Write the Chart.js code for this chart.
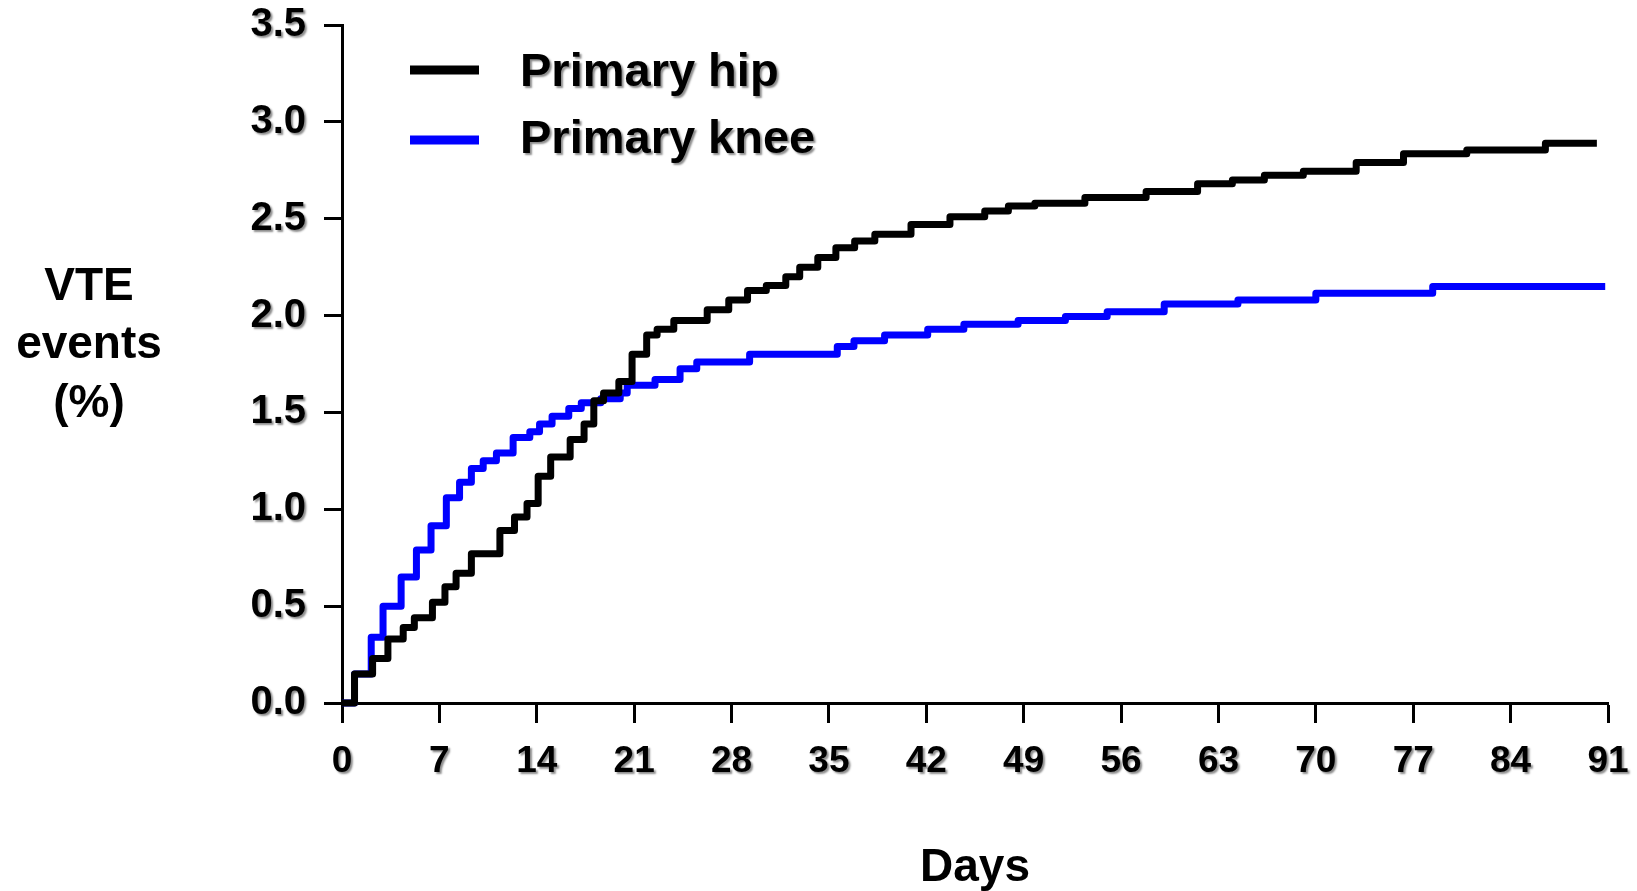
<!DOCTYPE html>
<html><head><meta charset="utf-8">
<script src="https://cdn.jsdelivr.net/npm/chart.js@4.4.1/dist/chart.umd.min.js"></script>
<style>html,body{margin:0;padding:0;background:#fff;overflow:hidden}#wrap{width:1637px;height:891px}</style>
</head><body><div id="wrap"><canvas id="c" width="1637" height="891"></canvas></div>
<script>
// ---- data ----
const seriesLabels = ['Primary hip', 'Primary knee'];
const hipDays   = [0, 0.9, 2.2, 3.3, 4.4, 5.2, 6.5, 7.4, 8.2, 9.3, 11.35, 12.4, 13.3, 14.1, 15.0, 16.4, 17.4, 18.1, 18.8, 19.9, 20.85, 21.9, 22.65, 23.85, 26.25, 27.8, 29.15, 30.5, 31.9, 32.9, 34.2, 35.5, 36.85, 38.3, 40.9, 43.7, 46.2, 47.9, 49.8, 53.4, 57.8, 61.5, 64.0, 66.3, 69.1, 72.9, 76.3, 80.85, 86.5, 90.2];
const hipValues = [0, 0.15, 0.23, 0.33, 0.39, 0.44, 0.52, 0.60, 0.67, 0.77, 0.89, 0.96, 1.03, 1.17, 1.27, 1.36, 1.44, 1.56, 1.60, 1.66, 1.80, 1.90, 1.93, 1.975, 2.03, 2.08, 2.13, 2.155, 2.20, 2.25, 2.30, 2.35, 2.385, 2.42, 2.47, 2.51, 2.54, 2.565, 2.58, 2.61, 2.64, 2.68, 2.70, 2.725, 2.745, 2.79, 2.835, 2.855, 2.89, 2.89];
const kneeDays   = [0, 0.9, 2.1, 2.95, 4.25, 5.35, 6.4, 7.5, 8.45, 9.3, 10.15, 11.1, 12.3, 13.5, 14.2, 15.1, 16.3, 17.2, 18.6, 20.0, 20.5, 22.5, 24.3, 25.5, 29.3, 35.6, 36.8, 39.0, 42.1, 44.7, 48.6, 52.0, 55.0, 59.1, 64.4, 70.0, 78.4, 90.8];
const kneeValues = [0, 0.15, 0.34, 0.50, 0.65, 0.79, 0.915, 1.06, 1.14, 1.21, 1.25, 1.29, 1.37, 1.40, 1.44, 1.48, 1.52, 1.55, 1.57, 1.60, 1.64, 1.67, 1.725, 1.76, 1.80, 1.84, 1.87, 1.90, 1.93, 1.955, 1.975, 1.995, 2.02, 2.06, 2.08, 2.115, 2.15, 2.15];
const xTickValues = [0, 7, 14, 21, 28, 35, 42, 49, 56, 63, 70, 77, 84, 91];
const yTickValues = [0, 0.5, 1.0, 1.5, 2.0, 2.5, 3.0, 3.5];
const xTitle = 'Days';
const yTitleLines = ['VTE', 'events', '(%)'];

const FONT = "'Liberation Sans', Arial, Helvetica, sans-serif";
const noShadow = new Set([xTitle].concat(yTitleLines));

const shadowTextPlugin = {
  id: 'shadowText',
  beforeDraw(chart) {
    const ctx = chart.ctx;
    if (ctx.__wrapped) return;
    ctx.__wrapped = true;
    const orig = ctx.fillText;
    ctx.fillText = function () {
      if (noShadow.has(arguments[0])) return orig.apply(this, arguments);
      this.save();
      this.shadowColor = 'rgba(0,0,0,0.45)';
      this.shadowOffsetX = 2;
      this.shadowOffsetY = 2;
      this.shadowBlur = 2;
      orig.apply(this, arguments);
      this.restore();
    };
  }
};

const yTitlePlugin = {
  id: 'yTitle',
  afterDraw(chart) {
    const ctx = chart.ctx;
    ctx.save();
    ctx.font = 'bold 46px ' + FONT;
    ctx.fillStyle = '#000';
    ctx.textAlign = 'center';
    ctx.textBaseline = 'middle';
    yTitleLines.forEach((t, i) => ctx.fillText(t, 89, 287 + i * 58.5));
    ctx.restore();
  }
};

const legendPlugin = {
  id: 'customLegend',
  afterDraw(chart) {
    const ctx = chart.ctx;
    const a = chart.chartArea;
    const rows = [{lineY: 45, textY: 48}, {lineY: 115, textY: 115}];
    ctx.save();
    chart.data.datasets.forEach((ds, i) => {
      const r = rows[i];
      ctx.fillStyle = ds.borderColor;
      ctx.fillRect(a.left + 68, a.top + r.lineY - 4.5, 69, 9);
      ctx.font = 'bold 47px ' + FONT;
      ctx.fillStyle = '#000';
      ctx.textAlign = 'left';
      ctx.textBaseline = 'middle';
      ctx.fillText(ds.label, a.left + 178, a.top + r.textY);
    });
    ctx.restore();
  }
};

const toPoints = (xs, ys) => xs.map((d, i) => ({x: d, y: ys[i]}));

new Chart(document.getElementById('c'), {
  type: 'line',
  data: {
    datasets: [
      {label: seriesLabels[0], data: toPoints(hipDays, hipValues), borderColor: '#000000', borderWidth: 7,
       stepped: 'before', pointRadius: 0, fill: false, clip: false, borderJoinStyle: 'round', borderCapStyle: 'butt', tension: 0},
      {label: seriesLabels[1], data: toPoints(kneeDays, kneeValues), borderColor: '#0000ff', borderWidth: 7,
       stepped: 'before', pointRadius: 0, fill: false, clip: false, borderJoinStyle: 'round', borderCapStyle: 'butt', tension: 0}
    ]
  },
  options: {
    responsive: false,
    animation: false,
    devicePixelRatio: 1,
    layout: {padding: {top: 25, right: 29, bottom: 0, left: 0}},
    plugins: {legend: {display: false}, tooltip: {enabled: false}},
    scales: {
      x: {
        type: 'linear', min: 0, max: 91,
        afterBuildTicks: s => { s.ticks = xTickValues.map(v => ({value: v})); },
        afterFit: s => { s.height = 188; s.paddingLeft = 0; s.paddingRight = 0; },
        ticks: {font: {family: FONT, size: 37, weight: 'bold'}, color: '#000', padding: 17, maxRotation: 0, autoSkip: false,
                callback: v => String(v)},
        grid: {display: true, drawOnChartArea: false, drawTicks: true, tickLength: 20, tickWidth: 3, tickColor: '#000'},
        border: {display: true, width: 3, color: '#000'},
        title: {display: true, text: xTitle, color: '#000', font: {family: FONT, size: 46, weight: 'bold', lineHeight: 1.0}, padding: {top: 0, bottom: 0}}
      },
      y: {
        type: 'linear', min: 0, max: 3.5,
        afterBuildTicks: s => { s.ticks = yTickValues.map(v => ({value: v})); },
        afterFit: s => { s.width = 342; s.paddingTop = 0; s.paddingBottom = 0; },
        ticks: {font: {family: FONT, size: 40, weight: 'bold'}, color: '#000', padding: 18,
                callback: v => Number(v).toFixed(1)},
        grid: {display: true, drawOnChartArea: false, drawTicks: true, tickLength: 18, tickWidth: 3, tickColor: '#000'},
        border: {display: true, width: 3, color: '#000'}
      }
    }
  },
  plugins: [shadowTextPlugin, yTitlePlugin, legendPlugin]
});
</script>
</body></html>
